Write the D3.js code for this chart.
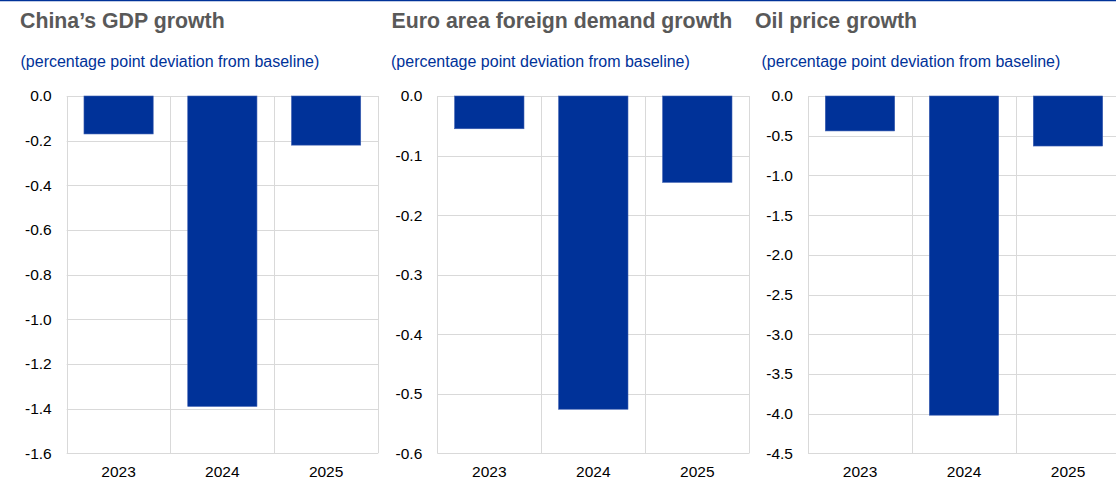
<!DOCTYPE html>
<html>
<head>
<meta charset="utf-8">
<script src="https://cdn.jsdelivr.net/npm/d3@7"></script>
<style>
html,body{margin:0;padding:0;background:#fff;}
svg{display:block;font-family:"Liberation Sans",Arial,sans-serif;}
</style>
</head>
<body>
<svg id="chart" width="1116" height="504"></svg>
<script>
const years = ["2023", "2024", "2025"];
const titles = ["China’s GDP growth", "Euro area foreign demand growth", "Oil price growth"];
const subtitle = "(percentage point deviation from baseline)";
const chinaGdp = [-0.17, -1.39, -0.22];
const foreignDemand = [-0.055, -0.526, -0.145];
const oilPrice = [-0.44, -4.02, -0.63];
const ticksChina = [0, -0.2, -0.4, -0.6, -0.8, -1.0, -1.2, -1.4, -1.6];
const ticksDemand = [0, -0.1, -0.2, -0.3, -0.4, -0.5, -0.6];
const ticksOil = [0, -0.5, -1.0, -1.5, -2.0, -2.5, -3.0, -3.5, -4.0, -4.5];

const svg = d3.select("#chart");
const BLUE = "#003299";
const GRID = "#d9d9d9";
const plotTop = 96, plotBottom = 453.3;

svg.append("line").attr("x1", 0).attr("x2", 1116).attr("y1", 0.5).attr("y2", 0.5)
  .attr("stroke", BLUE).attr("stroke-width", 1.5);

const panels = [
  {title: titles[0], values: chinaGdp, ticks: ticksChina, x0: 66.7, x1: 378, tx: 20, sx: 20.5},
  {title: titles[1], values: foreignDemand, ticks: ticksDemand, x0: 437.3, x1: 749.3, tx: 391.5, sx: 391},
  {title: titles[2], values: oilPrice, ticks: ticksOil, x0: 808, x1: 1120, tx: 755, sx: 761.5}
];

panels.forEach(p => {
  const g = svg.append("g");
  const x = d3.scaleBand().domain(years).range([p.x0, p.x1]).paddingInner(0.333).paddingOuter(0.1665);
  const y = d3.scaleLinear().domain([0, d3.min(p.ticks)]).range([plotTop, plotBottom]);

  g.append("text").attr("x", p.tx).attr("y", 28).attr("font-size", 21.3).attr("font-weight", "bold")
    .attr("fill", "#595959").text(p.title);
  g.append("text").attr("x", p.sx).attr("y", 67).attr("font-size", 16)
    .attr("fill", BLUE).text(subtitle);

  g.selectAll(".hg").data(p.ticks).join("line")
    .attr("x1", p.x0).attr("x2", p.x1)
    .attr("y1", d => Math.round(y(d)) + 0.5).attr("y2", d => Math.round(y(d)) + 0.5)
    .attr("stroke", GRID).attr("stroke-width", 1);
  const bounds = years.map(yr => x(yr) - x.step() * x.paddingInner() / 2).concat([p.x1]);
  bounds[0] = p.x0;
  g.selectAll(".vg").data(bounds).join("line")
    .attr("x1", d => Math.round(d) + 0.5).attr("x2", d => Math.round(d) + 0.5)
    .attr("y1", plotTop).attr("y2", plotBottom)
    .attr("stroke", GRID).attr("stroke-width", 1);

  g.selectAll(".bar").data(years.map((yr, i) => ({yr, v: p.values[i]}))).join("rect")
    .attr("x", d => x(d.yr)).attr("width", x.bandwidth())
    .attr("y", y(0)).attr("height", d => y(d.v) - y(0))
    .attr("fill", BLUE).attr("stroke", "#3a5cb0").attr("stroke-width", 0.6);

  const ya = d3.axisLeft(y).tickValues(p.ticks).tickFormat(d => d.toFixed(1)).tickSize(0).tickPadding(15);
  const yg = g.append("g").attr("transform", `translate(${p.x0},0)`).call(ya);
  yg.select(".domain").remove();
  yg.selectAll("text").attr("font-size", 15.5).attr("fill", "#000")
    .attr("font-family", "Liberation Sans, Arial, sans-serif");

  const xa = d3.axisBottom(x).tickSize(0).tickPadding(13);
  const xg = g.append("g").attr("transform", `translate(0,${plotBottom})`).call(xa);
  xg.select(".domain").remove();
  xg.selectAll("text").attr("font-size", 15.5).attr("fill", "#000")
    .attr("font-family", "Liberation Sans, Arial, sans-serif");
});
</script>
</body>
</html>
